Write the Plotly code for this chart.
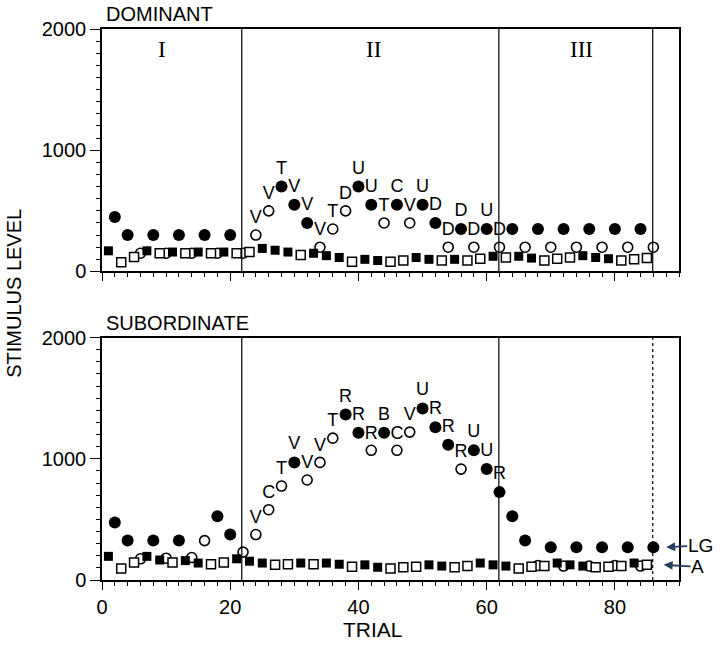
import plotly.graph_objects as go

# ---------------- data ----------------
circle_trials = list(range(2, 88, 2))
square_trials = list(range(1, 87, 2))

dom_circle_vals = [450, 300, 150, 300, 150, 300, 150, 300, 150, 300, 150,
                   300, 500, 700, 550, 400, 200, 350, 500, 700, 550, 400, 550,
                   400, 550, 400, 200, 350, 200, 350, 200,
                   350, 200, 350, 200, 350, 200, 350, 200, 350, 200, 350, 200]
dom_circle_filled = [1, 1, 0, 1, 0, 1, 0, 1, 0, 1, 0,
                     0, 0, 1, 1, 1, 0, 0, 0, 1, 1, 0, 1,
                     0, 1, 1, 0, 1, 0, 1, 0,
                     1, 0, 1, 0, 1, 0, 1, 0, 1, 0, 1, 0]
dom_circle_labels = ["", "", "", "", "", "", "", "", "", "", "",
                     "V", "V", "T", "V", "V", "V", "T", "D", "U", "U", "T", "C",
                     "V", "U", "D", "D", "D", "D", "U", "D",
                     "", "", "", "", "", "", "", "", "", "", "", ""]

dom_square_vals = [170, 75, 120, 170, 150, 160, 150, 160, 150, 160, 150,
                   160, 190, 175, 160, 135, 150, 130, 115, 80, 100, 90, 80,
                   90, 115, 100, 90, 100, 90, 105, 125, 115, 125, 110, 90,
                   105, 115, 130, 115, 105, 90, 100, 110]
dom_square_filled = [1, 0, 0, 1, 0, 1, 0, 1, 0, 1, 0,
                     0, 1, 1, 1, 0, 1, 1, 1, 0, 1, 1, 0,
                     0, 1, 1, 0, 1, 0, 0, 1, 0, 1, 1, 0,
                     0, 0, 1, 1, 1, 0, 0, 0]

sub_circle_vals = [475, 325, 175, 325, 180, 325, 185, 325, 525, 375, 230,
                   375, 580, 775, 970, 825, 970, 1170, 1365, 1215, 1070, 1215, 1070,
                   1220, 1415, 1260, 1115, 915, 1070, 915, 725,
                   525, 325, 120, 270, 115, 270, 115, 270, 120, 270, 115, 270]
sub_circle_filled = [1, 1, 0, 1, 0, 1, 0, 0, 1, 1, 0,
                     0, 0, 0, 1, 0, 0, 0, 1, 1, 0, 1, 0,
                     0, 1, 1, 1, 0, 1, 1, 1,
                     1, 1, 0, 1, 0, 1, 0, 1, 0, 1, 0, 1]
sub_circle_labels = ["", "", "", "", "", "", "", "", "", "", "",
                     "V", "C", "T", "V", "V", "V", "T", "R", "R", "R", "B", "C",
                     "V", "U", "R", "R", "R", "U", "U", "R",
                     "", "", "", "", "", "", "", "", "", "", "", ""]

sub_square_vals = [195, 95, 145, 195, 165, 145, 160, 140, 130, 145, 175,
                   155, 140, 125, 130, 140, 130, 140, 130, 110, 125, 105, 95,
                   105, 110, 125, 115, 105, 115, 140, 125, 115, 95, 110, 115,
                   140, 125, 115, 105, 110, 115, 140, 125]
sub_square_filled = [1, 0, 0, 1, 1, 0, 1, 1, 0, 0, 1,
                     1, 1, 0, 0, 1, 0, 1, 1, 0, 1, 1, 0,
                     0, 0, 1, 1, 0, 0, 1, 1, 1, 0, 0, 0,
                     1, 1, 1, 0, 0, 0, 1, 0]

phase_bounds = [21.8, 61.9, 85.9]
phase_names = ["I", "II", "III"]
phase_name_x = [9.3, 42.4, 74.8]
panel_titles = ["DOMINANT", "SUBORDINATE"]
x_tick_vals = [0, 20, 40, 60, 80]
y_tick_vals = [0, 1000, 2000]

FONT = "Arial, Liberation Sans, sans-serif"

fig = go.Figure()


def add_panel(xa, ya, cvals, cfill, clabels, svals, sfill):
    for filled in (1, 0):
        xs = [t for t, f in zip(circle_trials, cfill) if f == filled]
        ys = [v for v, f in zip(cvals, cfill) if f == filled]
        tx = [l for l, f in zip(clabels, cfill) if f == filled]
        fig.add_trace(go.Scatter(
            x=xs, y=ys, text=tx, mode="markers+text",
            textposition="top center",
            textfont=dict(family=FONT, size=18, color="black"),
            marker=dict(symbol="circle", size=12 if filled else 10,
                        color="black" if filled else "white",
                        line=dict(color="black", width=0 if filled else 1.6)),
            xaxis=xa, yaxis=ya, showlegend=False, cliponaxis=False))
    for filled in (1, 0):
        xs = [t for t, f in zip(square_trials, sfill) if f == filled]
        ys = [v for v, f in zip(svals, sfill) if f == filled]
        fig.add_trace(go.Scatter(
            x=xs, y=ys, mode="markers",
            marker=dict(symbol="square", size=9,
                        color="black" if filled else "white",
                        line=dict(color="black", width=0 if filled else 1.5)),
            xaxis=xa, yaxis=ya, showlegend=False, cliponaxis=False))


add_panel("x", "y", dom_circle_vals, dom_circle_filled, dom_circle_labels,
          dom_square_vals, dom_square_filled)
add_panel("x2", "y2", sub_circle_vals, sub_circle_filled, sub_circle_labels,
          sub_square_vals, sub_square_filled)

axis_common = dict(showgrid=False, zeroline=False, showline=True,
                   linecolor="black", linewidth=1.5, mirror=True,
                   ticks="outside", tickcolor="black", tickwidth=1.3)

xcommon = dict(axis_common, range=[0, 90], tickvals=x_tick_vals, ticklen=8,
               minor=dict(dtick=2, tick0=0, ticks="outside", ticklen=4,
                          tickcolor="black", tickwidth=1.2),
               tickfont=dict(family=FONT, size=20, color="black"))
ycommon = dict(axis_common, range=[0, 2000], tickvals=y_tick_vals, ticklen=10,
               minor=dict(dtick=100, tick0=0, ticks="outside", ticklen=4,
                          tickcolor="black", tickwidth=1.2),
               tickfont=dict(family=FONT, size=20, color="black"))

fig.update_layout(
    width=720, height=645,
    margin=dict(l=102, r=41, t=29, b=65),
    paper_bgcolor="white", plot_bgcolor="white",
    xaxis=dict(xcommon, anchor="y", showticklabels=False),
    yaxis=dict(ycommon, anchor="x", domain=[0.56, 1.0]),
    xaxis2=dict(xcommon, anchor="y2"),
    yaxis2=dict(ycommon, anchor="x2", domain=[0.0, 0.44]),
)

# phase boundary lines
for xr, yr in (("x", "y"), ("x2", "y2")):
    for i, b in enumerate(phase_bounds):
        dash = "dot" if (yr == "y2" and i == 2) else "solid"
        fig.add_shape(type="line", xref=xr, yref=yr + " domain",
                      x0=b, x1=b, y0=0, y1=1,
                      line=dict(color="black", width=1.2, dash=dash))

# phase names (top panel only)
for name, px in zip(phase_names, phase_name_x):
    fig.add_annotation(x=px, y=1830, xref="x", yref="y", text=name,
                       showarrow=False,
                       font=dict(family="Times New Roman, Liberation Serif, serif",
                                 size=23, color="black"))

# panel titles
fig.add_annotation(x=0.005, y=1.0, xref="x domain", yref="y domain",
                   text=panel_titles[0], showarrow=False, xanchor="left",
                   yanchor="bottom", yshift=3, borderpad=0,
                   font=dict(family=FONT, size=20, color="black"))
fig.add_annotation(x=0.005, y=1.0, xref="x2 domain", yref="y2 domain",
                   text=panel_titles[1], showarrow=False, xanchor="left",
                   yanchor="bottom", yshift=3, borderpad=0,
                   font=dict(family=FONT, size=20, color="black"))

# axis titles
fig.add_annotation(x=-0.152, y=0.52, xref="paper", yref="paper",
                   xanchor="center", yanchor="middle", borderpad=0,
                   text="STIMULUS LEVEL", textangle=-90, showarrow=False,
                   font=dict(family=FONT, size=20, color="black"))
fig.add_annotation(x=0.47, y=-0.09, xref="paper", yref="paper",
                   xanchor="center", yanchor="middle",
                   text="TRIAL", showarrow=False,
                   font=dict(family=FONT, size=21, color="black"))

# LG / A arrows
fig.add_annotation(x=88.0, y=270, xref="x2", yref="y2", text="LG",
                   showarrow=True, arrowhead=2, arrowsize=1, arrowwidth=1.8,
                   ax=34, ay=-2, borderpad=0,
                   font=dict(family=FONT, size=19, color="black"))
fig.add_annotation(x=87.6, y=125, xref="x2", yref="y2", text="A",
                   showarrow=True, arrowhead=2, arrowsize=1, arrowwidth=1.8,
                   ax=34, ay=2, borderpad=0,
                   font=dict(family=FONT, size=19, color="black"))

# remove the browser's default 8px body margin so the figure fills the window
fig.write_html("out.html",
               config={"displayModeBar": False},
               post_script="document.body.style.margin='0';"
                           "document.body.style.padding='0';")
